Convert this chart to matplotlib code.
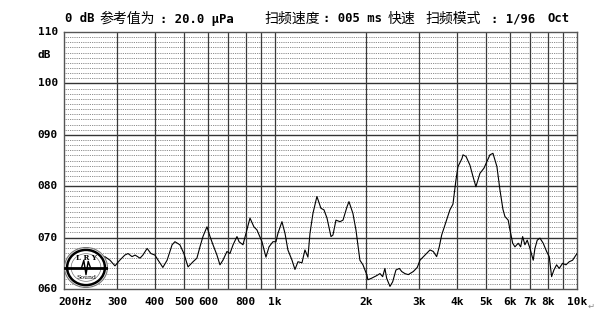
import matplotlib
matplotlib.use("Agg")
import matplotlib.pyplot as plt
from matplotlib.patches import Ellipse
from matplotlib.transforms import blended_transform_factory, ScaledTranslation

# ---- data ----
freq_hz = [273, 284, 295, 306, 318, 326, 336, 344, 357, 365, 377, 388, 400, 410, 425,
           439, 456, 466, 484, 499, 515, 535, 551, 564, 577, 595, 609, 623, 642, 657,
           672, 693, 709, 726, 748, 760, 783, 801, 826, 851, 871, 905, 933, 955, 984,
           1007, 1022, 1054, 1079, 1103, 1138, 1164, 1191, 1228, 1256, 1285, 1305, 1335,
           1376, 1419, 1452, 1486, 1532, 1555, 1591, 1641, 1679, 1731, 1757, 1811, 1853,
           1910, 1955, 2015, 2030, 2088, 2170, 2226, 2272, 2311, 2342, 2402, 2452, 2514,
           2580, 2627, 2692, 2762, 2870, 2958, 3020, 3138, 3259, 3342, 3429, 3498, 3563,
           3794, 3883, 3973, 4034, 4160, 4192, 4289, 4420, 4523, 4626, 4770, 4918, 5031,
           5148, 5268, 5430, 5556, 5685, 5772, 5917, 5998, 6124, 6230, 6388, 6507, 6606,
           6722, 6841, 6985, 7162, 7256, 7384, 7539, 7729, 7931, 8091, 8240, 8385, 8560,
           8731, 8960, 9190, 9422, 9669, 9918, 10000]
level_db = [66.3, 65.6, 64.5, 65.6, 66.6, 66.9, 66.3, 66.6, 66.0, 66.6, 67.9, 66.9, 66.6, 65.6, 64.2,
            65.6, 68.6, 69.2, 68.6, 66.9, 64.3, 65.3, 66.0, 68.2, 70.2, 72.1, 70.2, 68.6, 66.6, 64.7,
            65.6, 67.3, 66.9, 68.6, 70.2, 69.2, 68.6, 70.8, 73.8, 72.1, 71.5, 69.2, 66.2, 68.2, 69.2,
            69.2, 70.8, 73.1, 70.8, 67.6, 65.6, 63.8, 65.3, 65.1, 67.6, 66.2, 70.8, 74.7,
            78.0, 75.7, 75.4, 73.8, 70.2, 70.5, 73.4, 73.1, 73.4, 76.0, 77.0, 74.7, 71.5,
            65.6, 64.7, 62.7, 61.8, 62.1, 62.6, 63.0, 62.4, 64.0, 62.1, 60.5, 61.4, 63.7,
            64.0, 63.4, 63.0, 62.8, 63.4, 64.2, 65.6, 66.6, 67.6, 67.3, 66.3, 68.2, 70.5,
            75.4, 76.5, 81.2, 83.8, 85.4, 86.1, 85.8, 84.1, 81.9, 79.9, 82.5, 83.5, 84.8,
            86.1, 86.4, 83.8, 79.3, 75.5, 74.1, 73.4, 71.5, 68.9, 68.2, 68.9, 68.2, 70.2,
            68.6, 69.5, 67.9, 65.6, 67.9, 69.5, 69.9, 68.9, 67.3, 66.3, 62.4, 63.7, 64.7,
            64.0, 65.0, 64.7, 65.3, 65.6, 66.6, 66.9]

x_min, x_max = 200, 10000
y_min, y_max = 60, 110
major_v = [300, 400, 500, 600, 700, 800, 900, 1000, 2000, 3000, 4000, 5000, 6000, 7000, 8000, 9000]
x_tick_vals = [300, 400, 500, 600, 800, 1000, 2000, 3000, 4000, 5000, 6000, 7000, 8000, 10000]
x_tick_labels = ["300", "400", "500", "600", "800", "1k", "2k", "3k", "4k", "5k", "6k", "7k", "8k", "10k"]
y_tick_vals = [110, 100, 90, 80, 70, 60]
y_tick_labels = ["110", "100", "090", "080", "070", "060"]

W, H = 599, 321
fig = plt.figure(figsize=(W / 100, H / 100), dpi=100)
fig.patch.set_facecolor("white")

L, R, T, B = 64, 577, 32, 289
ax = fig.add_axes([L / W, (H - B) / H, (R - L) / W, (B - T) / H])
ax.set_xscale("log")
ax.set_xlim(x_min, x_max)
ax.set_ylim(y_min, y_max)
ax.set_xticks([])
ax.set_yticks([])
ax.minorticks_off()
for s in ax.spines.values():
    s.set_color("#555555")
    s.set_linewidth(1.0)

# minor dotted horizontal grid (every 1 dB)
for v in range(y_min + 1, y_max):
    if v % 10 != 0:
        ax.axhline(v, color="#666666", lw=0.6, ls=(0, (1.0, 1.2)), zorder=1)
# major horizontal
for v in y_tick_vals[1:-1]:
    ax.axhline(v, color="#333333", lw=1.0, zorder=2)
# vertical grid
for f in major_v:
    ax.axvline(f, color="#3a3a3a", lw=0.9, zorder=2)

ax.plot(freq_hz, level_db, color="black", lw=0.8, zorder=4)

mono = dict(family="DejaVu Sans Mono", weight="bold", fontsize=8, color="black")
mono_t = dict(family="DejaVu Sans Mono", weight="bold", fontsize=8.8, color="black")
cjk = dict(family=["Noto Sans CJK SC", "DejaVu Sans"], fontsize=10, color="black")

# y tick labels
ytr = blended_transform_factory(fig.transFigure, ax.transData)
for v, lab in zip(y_tick_vals, y_tick_labels):
    fig.text(58 / W, v, lab, transform=ytr, ha="right", va="center", **mono)
fig.text(37 / W, (H - 55) / H, "dB", ha="left", va="center", **mono)

# x tick labels
xtr = blended_transform_factory(ax.transData, fig.transFigure)
for v, lab in zip(x_tick_vals, x_tick_labels):
    ax.text(v, (H - 302) / H, lab, transform=xtr, ha="center", va="center", **mono)
ax.text(x_min, (H - 302) / H, "200Hz",
        transform=xtr + ScaledTranslation(-6 / 100, 0, fig.dpi_scale_trans),
        ha="left", va="center", **mono)
fig.text(588 / W, (H - 306) / H, "\u21b5", ha="left", va="center",
         family="DejaVu Sans", fontsize=6, color="#888888")

# header
ty = (H - 19) / H
fig.text(65 / W, ty, "0 dB", ha="left", va="center", **mono_t)
fig.text(99 / W, ty, "参考值为", ha="left", va="center", **cjk)
fig.text(160 / W, ty, ": 20.0 μPa", ha="left", va="center", **mono_t)
fig.text(264 / W, ty, "扫频速度", ha="left", va="center", **cjk)
fig.text(323 / W, ty, ": 005 ms", ha="left", va="center", **mono_t)
fig.text(388 / W, ty, "快速", ha="left", va="center", **cjk)
fig.text(425 / W, ty, "扫频模式", ha="left", va="center", **cjk)
fig.text(491 / W, ty, ": 1/96", ha="left", va="center", **mono_t)
fig.text(547 / W, ty, "Oct", ha="left", va="center", **mono_t)

# logo emblem
lx0, ly0, lw_, lh_ = 64, 247, 44, 41
lax = fig.add_axes([lx0 / W, (H - ly0 - lh_) / H, lw_ / W, lh_ / H])
lax.set_xlim(-1, 1)
lax.set_ylim(-1, 1)
lax.axis("off")
lax.add_patch(Ellipse((0, 0), 1.95, 1.95, facecolor="white", edgecolor="#777777", lw=0.8))
lax.add_patch(Ellipse((0, 0), 1.72, 1.72, facecolor="white", edgecolor="black", lw=1.8))
lax.add_patch(Ellipse((0, 0), 1.35, 1.35, facecolor="none", edgecolor="#777777", lw=0.5))
lax.plot([-0.95, 0.95], [0.0, 0.0], color="black", lw=2.0)
lax.plot([-0.2, -0.1, 0.0, 0.1, 0.2], [0.0, 0.35, -0.35, 0.3, 0.0], color="black", lw=1.0)
lax.text(0, 0.45, "L R Y", ha="center", va="center", family="DejaVu Serif",
         fontsize=5, weight="bold", color="black")
lax.text(0, -0.5, "Sound", ha="center", va="center", family="DejaVu Serif",
         fontsize=4.5, color="black")

fig.savefig("out.png", dpi=100)
